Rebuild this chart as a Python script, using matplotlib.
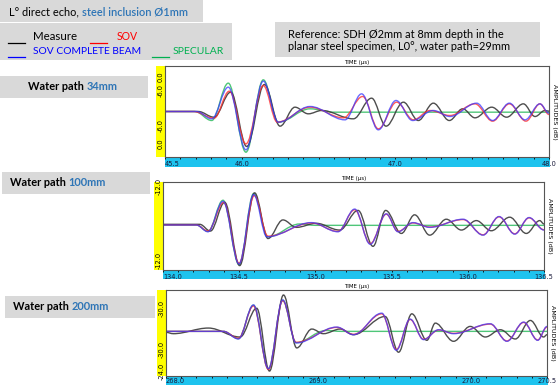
import numpy as np
import matplotlib
matplotlib.use('Agg')
import matplotlib.pyplot as plt
from matplotlib.path import Path
from matplotlib.patches import PathPatch, Rectangle
from matplotlib.lines import Line2D


# ---- data: extrema of each trace (time in us, relative amplitude) ----
series_names = ['Measure', 'SOV', 'SOV COMPLETE BEAM', 'SPECULAR']
water_paths = ['34mm', '100mm', '200mm']

# water path 34mm
p1_t_measure = [45.5, 45.717, 45.819, 45.928, 46.032, 46.147, 46.249, 46.346, 46.433, 46.520, 46.726, 46.845, 46.939,
                47.052, 47.149, 47.247, 47.351, 47.438, 47.518, 47.627, 47.724, 47.833, 47.909, 47.974, 48.0]
p1_a_measure = [0.0, 0.0, -0.125, 0.425, -0.769, 0.593, -0.322, 0.095, -0.051, 0.022, -0.161, 0.293, -0.322,
                0.205, -0.198, 0.183, -0.198, 0.059, -0.139, 0.095, -0.125, 0.168, -0.110, 0.022, 0.007]
p1_t_sov = [45.5, 45.684, 45.819, 45.919, 46.027, 46.140, 46.231, 46.444, 46.661, 46.787, 46.889, 47.008, 47.117,
            47.225, 47.355, 47.518, 47.633, 47.742, 47.850, 47.941, 48.0]
p1_a_sov = [0.0, 0.0, -0.147, 0.447, -0.711, 0.571, -0.234, 0.095, -0.139, 0.330, -0.381, 0.205, -0.183,
            0.022, -0.088, 0.168, -0.212, 0.168, -0.212, 0.168, -0.066]
p1_t_beam = [45.5, 45.706, 45.804, 45.912, 46.027, 46.140, 46.238, 46.444, 46.672, 46.780, 46.889, 47.004, 47.112,
             47.247, 47.355, 47.529, 47.633, 47.742, 47.844, 47.941, 48.0]
p1_a_beam = [0.0, 0.0, -0.161, 0.535, -0.842, 0.667, -0.234, 0.110, -0.183, 0.388, -0.403, 0.242, -0.198,
             0.022, -0.110, 0.183, -0.198, 0.183, -0.183, 0.168, -0.037]
p1_t_spec = [45.5, 45.695, 45.804, 45.912, 46.027, 46.140, 46.238, 46.444, 46.600, 48.0]
p1_a_spec = [0.0, 0.0, -0.198, 0.623, -0.894, 0.696, -0.234, 0.059, -0.015, -0.015]

# water path 100mm
p2_t_measure = [134.0, 134.241, 134.311, 134.405, 134.503, 134.601, 134.689, 134.787, 134.875, 135.006, 135.159,
                135.280, 135.378, 135.461, 135.564, 135.651, 135.750, 135.859, 135.958, 136.056, 136.154, 136.275,
                136.384, 136.472, 136.5]
p2_a_measure = [0.015, 0.015, -0.138, 0.515, -0.923, 0.731, -0.308, 0.115, -0.054, 0.038, -0.115,
                0.331, -0.485, 0.331, -0.192, 0.231, -0.231, 0.131, -0.115, 0.100, -0.131, 0.177,
                -0.192, 0.100, 0.023]
p2_t_sov = [134.0, 134.219, 134.295, 134.398, 134.499, 134.599, 134.689, 134.973, 135.148, 135.258, 135.360,
            135.465, 135.542, 135.640, 135.750, 135.969, 136.100, 136.205, 136.308, 136.402, 136.5]
p2_a_sov = [0.0, 0.0, -0.138, 0.515, -0.869, 0.669, -0.254, 0.046, -0.146, 0.346, -0.423,
            0.246, -0.146, 0.046, -0.046, 0.123, -0.223, 0.185, -0.200, 0.162, -0.108]
p2_t_beam = [134.0, 134.219, 134.295, 134.394, 134.499, 134.595, 134.682, 134.973, 135.148, 135.258, 135.360,
             135.465, 135.542, 135.640, 135.750, 135.969, 136.100, 136.205, 136.308, 136.402, 136.5]
p2_a_beam = [0.0, 0.0, -0.154, 0.538, -0.885, 0.692, -0.269, 0.054, -0.154, 0.362, -0.438,
             0.254, -0.154, 0.054, -0.054, 0.131, -0.231, 0.192, -0.208, 0.169, -0.115]
p2_t_spec = [134.0, 134.219, 134.295, 134.394, 134.499, 134.595, 134.689, 134.897, 135.0, 136.5]
p2_a_spec = [0.0, 0.0, -0.146, 0.562, -0.900, 0.715, -0.269, 0.023, -0.008, -0.008]

# water path 200mm
p3_t_measure = [268.0, 268.048, 268.278, 268.486, 268.595, 268.679, 268.771, 268.858, 268.957, 269.033, 269.143,
                269.230, 269.438, 269.526, 269.613, 269.712, 269.767, 269.887, 269.996, 270.095, 270.194, 270.292,
                270.391, 270.478, 270.5]
p3_a_measure = [-0.023, -0.054, 0.077, -0.131, 0.538, -0.923, 0.846, -0.385, 0.054, -0.054, 0.054,
                -0.077, 0.346, -0.485, 0.408, -0.208, 0.192, -0.231, 0.115, -0.131, 0.038, -0.177,
                0.254, -0.131, -0.077]
p3_t_sov = [268.0, 268.377, 268.475, 268.574, 268.672, 268.766, 268.854, 269.121, 269.230, 269.416, 269.511,
            269.602, 269.690, 269.789, 269.887, 270.128, 270.237, 270.347, 270.439, 270.5]
p3_a_sov = [0.0, 0.0, -0.162, 0.592, -0.885, 0.715, -0.254, 0.092, -0.069, 0.408, -0.423,
            0.277, -0.185, 0.031, -0.046, 0.169, -0.223, 0.208, -0.200, 0.100]
p3_t_beam = [268.0, 268.377, 268.475, 268.574, 268.672, 268.766, 268.854, 269.121, 269.230, 269.416, 269.511,
             269.602, 269.690, 269.789, 269.887, 270.128, 270.237, 270.347, 270.439, 270.5]
p3_a_beam = [0.0, 0.0, -0.177, 0.615, -0.869, 0.731, -0.269, 0.100, -0.077, 0.423, -0.438,
             0.285, -0.192, 0.038, -0.054, 0.177, -0.231, 0.215, -0.208, 0.115]
p3_t_spec = [268.0, 268.377, 268.475, 268.574, 268.672, 268.766, 268.854, 269.05, 269.15, 270.5]
p3_a_spec = [0.0, 0.0, -0.169, 0.608, -0.877, 0.723, -0.262, 0.020, 0.0, 0.0]

# axis ticks / labels
p1_xticks = [45.5, 46.0, 47.0, 48.0]
p2_xticks = [134.0, 134.5, 135.0, 135.5, 136.0, 136.5]
p3_xticks = [268.0, 269.0, 270.0, 270.5]
p1_yticks, p1_ylabels = [0.769, 0.462, -0.308, -0.703], ['0.0', '-6.0', '-6.0', '0.0']
p2_yticks, p2_ylabels = [0.877, -0.808], ['-12.0', '-12.0']
p3_yticks, p3_ylabels = [0.524, -0.422, -0.930], ['-30.0', '-30.0', '-24.0']

# ---- style ----
W, H = 558, 385
FONT = ['Lato', 'DejaVu Sans']
GREY_BOX = '#d9d9d9'
TXT_BLUE = '#2e75b6'
STRIP_BLUE = '#1ec3ee'
trace_colors = {'Measure': '#3a3a3a', 'SOV': '#ff3030', 'SOV COMPLETE BEAM': '#3a3aff', 'SPECULAR': '#3cc06a'}
trace_alpha = {'Measure': 0.9, 'SOV': 0.8, 'SOV COMPLETE BEAM': 0.75, 'SPECULAR': 0.9}
legend_colors = {'Measure': '#000000', 'SOV': '#ff0000', 'SOV COMPLETE BEAM': '#0000ff', 'SPECULAR': '#00b050'}


def smooth_path(ts, vs):
    # cubic segments with flat tangents at each extremum
    verts = [(ts[0], vs[0])]
    codes = [Path.MOVETO]
    for i in range(len(ts) - 1):
        d = (ts[i + 1] - ts[i]) * 0.364
        verts += [(ts[i] + d, vs[i]), (ts[i + 1] - d, vs[i + 1]), (ts[i + 1], vs[i + 1])]
        codes += [Path.CURVE4] * 3
    return Path(verts, codes)


fig = plt.figure(figsize=(W / 100, H / 100), dpi=100)

# background layer in pixel coordinates
bg = fig.add_axes([0, 0, 1, 1], zorder=-1)
bg.set_xlim(0, W)
bg.set_ylim(H, 0)
bg.axis('off')


def box(x0, y0, x1, y1, color):
    bg.add_patch(Rectangle((x0, y0), x1 - x0, y1 - y0, facecolor=color, edgecolor='none'))


# header boxes
box(0, 0, 203, 22, GREY_BOX)
t = bg.text(9, 11.5, 'L° direct echo, ', fontsize=7.9, family=FONT, va='center', ha='left')
bg.annotate('steel inclusion Ø1mm', xy=(1, 0), xycoords=t, va='bottom', ha='left',
            fontsize=7.9, family=FONT, color=TXT_BLUE, fontweight='semibold')

box(0, 23, 232, 60, GREY_BOX)
legend_pos = [(8, 33, 36.5), (90, 117, 36.5), (8, 33, 51), (152, 173, 51)]
legend_size = {'Measure': 8.3, 'SOV': 7.6, 'SOV COMPLETE BEAM': 7.4, 'SPECULAR': 7.5}
for name, (lx, tx, ty) in zip(series_names, legend_pos):
    bg.add_line(Line2D([lx, lx + 17], [ty + 6, ty + 6], color=legend_colors[name], lw=0.9))
    bg.text(tx, ty, name, fontsize=legend_size[name], family=FONT, va='center', ha='left',
            color='black' if name == 'Measure' else legend_colors[name])

box(275, 22, 540, 57, GREY_BOX)
bg.text(288, 34, 'Reference: SDH Ø2mm at 8mm depth in the', fontsize=7.9, family=FONT, va='center')
bg.text(288, 46.5, 'planar steel specimen, L0°, water path=29mm', fontsize=7.9, family=FONT, va='center')

# water path labels
wp_boxes = [(0, 76, 148, 98, 28), (2, 172, 150, 194, 10), (5, 296, 155, 318, 13)]
for wp, (x0, y0, x1, y1, tx) in zip(water_paths, wp_boxes):
    box(x0, y0, x1, y1, GREY_BOX)
    t = bg.text(tx, (y0 + y1) / 2, 'Water path ', fontsize=7.9, family=FONT, fontweight='bold', va='center')
    bg.annotate(wp, xy=(1, 0), xycoords=t, va='bottom', ha='left', fontsize=7.9, family=FONT,
                fontweight='bold', color=TXT_BLUE)

# ---- panels ----
panels = [
    dict(frame=(165, 66, 549, 157), strip=10, ylim=(-1.0, 1.0), xlim=(45.5, 48.0),
         xt=p1_xticks, yt=p1_yticks, yl=p1_ylabels, pad=1.0,
         traces=[(p1_t_spec, p1_a_spec, 'SPECULAR'), (p1_t_measure, p1_a_measure, 'Measure'),
                 (p1_t_sov, p1_a_sov, 'SOV'), (p1_t_beam, p1_a_beam, 'SOV COMPLETE BEAM')]),
    dict(frame=(163, 182, 544, 270), strip=9, ylim=(-1.023, 0.977), xlim=(134.0, 136.5),
         xt=p2_xticks, yt=p2_yticks, yl=p2_ylabels, pad=1.0,
         traces=[(p2_t_spec, p2_a_spec, 'SPECULAR'), (p2_t_measure, p2_a_measure, 'Measure'),
                 (p2_t_sov, p2_a_sov, 'SOV'), (p2_t_beam, p2_a_beam, 'SOV COMPLETE BEAM')]),
    dict(frame=(166, 290, 547, 376), strip=10, ylim=(-1.038, 0.962), xlim=(268.0, 270.5),
         xt=p3_xticks, yt=p3_yticks, yl=p3_ylabels, pad=0.1,
         traces=[(p3_t_spec, p3_a_spec, 'SPECULAR'), (p3_t_measure, p3_a_measure, 'Measure'),
                 (p3_t_sov, p3_a_sov, 'SOV'), (p3_t_beam, p3_a_beam, 'SOV COMPLETE BEAM')]),
]

for p in panels:
    x0, y0, x1, y1 = p['frame']
    box(x0 - 9, y0, x0, y1, '#ffff00')                 # yellow amplitude strip
    box(x0, y1, x1 + 1, y1 + p['strip'], STRIP_BLUE)   # blue time strip

    ax = fig.add_axes([x0 / W, (H - y1) / H, (x1 - x0) / W, (y1 - y0) / H])
    ax.set_xlim(*p['xlim'])
    ax.set_ylim(*p['ylim'])
    for s in ax.spines.values():
        s.set_color('#555555')
        s.set_linewidth(0.8)

    for ts, vs, name in p['traces']:
        ax.add_patch(PathPatch(smooth_path(ts, vs), fill=False, edgecolor=trace_colors[name],
                               lw=1.0, alpha=trace_alpha[name]))

    ax.set_xticks(p['xt'])
    ax.set_xticklabels(['{:.1f}'.format(v) for v in p['xt']])
    ax.set_xticks(np.arange(p['xlim'][0], p['xlim'][1] + 0.01, 0.1), minor=True)
    ax.tick_params(axis='x', which='both', direction='out', length=1.6, width=0.6, pad=p['pad'],
                   labelsize=4.8, labelcolor='#1a1a3a')
    ax.get_xticklabels()[0].set_ha('left')

    ax.set_yticks(p['yt'])
    ax.set_yticklabels(p['yl'], rotation=90, va='center')
    ax.tick_params(axis='y', length=0, pad=1.0, labelsize=4.8)

    ax.text(0.5, 1.012, 'TIME (µs)', transform=ax.transAxes, ha='center', va='bottom', fontsize=4.0)
    ax.text(1.008, 0.5, 'AMPLITUDES (dB)', transform=ax.transAxes, ha='left', va='center',
            rotation=270, fontsize=4.6)

fig.savefig('out.png', dpi=100)
